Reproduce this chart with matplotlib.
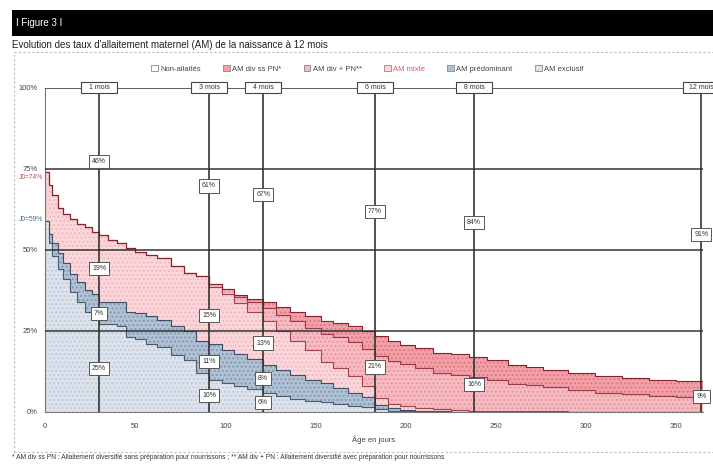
import matplotlib
matplotlib.use("Agg")
import matplotlib.pyplot as plt
import numpy as np
from matplotlib.patches import Patch, Rectangle

# ---- data ----
days = [0, 2, 4, 7, 10, 14, 18, 22, 26, 30, 35, 40, 45, 50, 56, 62, 70, 77, 84, 91,
        98, 105, 112, 121, 128, 136, 144, 153, 160, 168, 176, 183, 190, 197, 205, 215,
        225, 235, 245, 257, 267, 276, 290, 305, 320, 335, 350, 365]

am_exclusif = [59, 52, 48, 44, 41, 37, 34, 31, 29.5, 27, 27, 26.5, 23, 22.5, 21, 20, 17.5, 16, 12, 10,
               9, 8, 7, 6, 5, 4, 3.5, 3, 2.5, 2, 1.5, 0.8, 0.3, 0.2, 0.1, 0,
               0, 0, 0, 0, 0, 0, 0, 0, 0, 0, 0, 0]
am_predominant = [0, 3, 4, 5, 5, 5.5, 6, 6.5, 7, 7, 7, 7.5, 8, 8, 8.5, 8.5, 9, 9, 10, 11,
                  10, 10, 9.5, 8.5, 8, 7.5, 6.5, 6, 5, 4, 3, 1.5, 0.8, 0.5, 0.3, 0.2,
                  0.1, 0, 0, 0, 0, 0, 0, 0, 0, 0, 0, 0]
am_mixte = [15, 15, 15, 14, 15, 17, 18, 19.5, 19, 20.5, 19, 18, 19.5, 19, 19, 19, 18.5, 18, 20, 17.5,
            17.5, 15.5, 14.5, 13.5, 12, 10.5, 9, 6.5, 6, 5, 3.5, 2, 1.5, 1, 0.8, 0.6,
            0.5, 0.4, 0.2, 0.2, 0.2, 0.2, 0.1, 0, 0, 0, 0, 0]
am_div_pn = [0, 0, 0, 0, 0, 0, 0, 0, 0, 0, 0, 0, 0, 0, 0, 0, 0, 0, 0, 1,
             1.5, 2, 3, 4, 5, 6, 7, 8.5, 9.5, 10.5, 11.5, 13, 13, 13, 12.3, 11.3,
             10.8, 10.3, 9.6, 8.4, 8.1, 7.4, 6.6, 6, 5.5, 5, 4.7, 4.5]
am_div_ss_pn = [0, 0, 0, 0, 0, 0, 0, 0, 0, 0, 0, 0, 0, 0, 0, 0, 0, 0, 0, 0,
                0, 0.5, 1, 2, 2.5, 3, 3.5, 4, 4.5, 5, 5.5, 6.2, 6.4, 6.0, 6.2, 6.2,
                6.5, 6.4, 6.2, 5.9, 5.7, 5.4, 5.3, 5, 5, 5, 4.8, 4.8]

layer_names = ["AM exclusif", "AM prédominant", "AM mixte", "AM div + PN**", "AM div ss PN*"]

month_labels = ["1 mois", "3 mois", "4 mois", "6 mois", "8 mois", "12 mois"]
month_days = [30, 91, 121, 183, 238, 364]

# (month index, first layer, last layer, text) ; layer 5 = non-allaités
value_boxes = [
    (0, 5, 5, "46%"), (0, 2, 2, "19%"), (0, 1, 1, "7%"), (0, 0, 0, "25%"),
    (1, 5, 5, "61%"), (1, 2, 2, "15%"), (1, 1, 1, "11%"), (1, 0, 0, "10%"),
    (2, 5, 5, "67%"), (2, 2, 2, "13%"), (2, 1, 1, "8%"), (2, 0, 0, "6%"),
    (3, 5, 5, "77%"), (3, 3, 4, "21%"),
    (4, 5, 5, "84%"), (4, 0, 4, "16%"),
    (5, 5, 5, "91%"), (5, 0, 4, "9%"),
]
start_labels = ["J0=74%", "J0=59%"]

# ---- styles ----
fill_colors = ["#dde4ed", "#b2c2d5", "#fbd7db", "#f7bcc2", "#f3a1a9"]
hatch_colors = ["#c2cbd8", "#8599b2", "#efb9bf", "#e7979f", "#de7a84"]
line_colors = ["#4a5a70", "#3f4f66", "#a0434d", "#9b3a44", "#86222d"]

plt.rcParams["font.family"] = ["Liberation Sans", "DejaVu Sans"]

fig = plt.figure(figsize=(7.13, 4.65), dpi=100)
ax = fig.add_axes([0.0631, 0.114, 0.923, 0.697])

layers = np.array([am_exclusif, am_predominant, am_mixte, am_div_pn, am_div_ss_pn])
tops = np.cumsum(layers, axis=0)
bottoms = np.vstack([np.zeros(len(days)), tops[:-1]])

for i in range(len(layers)):
    ax.fill_between(days, bottoms[i], tops[i], step="post", facecolor=fill_colors[i],
                    edgecolor=hatch_colors[i], hatch="....", linewidth=0, zorder=1)
for i in range(len(layers)):
    ax.step(days, tops[i], where="post", color=line_colors[i], lw=0.8, zorder=2)

# reference lines
ax.hlines([25, 50, 75, 100], 0, 365, color="#333333", lw=1.1, zorder=3)
ax.vlines(month_days, 0, 100, color="#333333", lw=1.2, zorder=3)

ax.set_xlim(0, 365)
ax.set_ylim(0, 100)
for s in ["top", "right"]:
    ax.spines[s].set_visible(False)
ax.spines["left"].set_color("#777777")
ax.spines["bottom"].set_color("#777777")
ax.spines["left"].set_linewidth(0.8)
ax.spines["bottom"].set_linewidth(0.8)
ax.set_yticks([0, 25, 50, 75, 100])
ax.set_yticklabels(["0%", "25%", "50%", "75%", "100%"])
ax.set_xticks(range(0, 351, 50))
ax.tick_params(length=0, labelsize=5.5, colors="#444444", pad=8)
ax.tick_params(axis="y", pad=5)
ax.set_xlabel("Âge en jours", fontsize=5.5, color="#444444", labelpad=4)

# month boxes on the 100% line
for d, lab in zip(month_days, month_labels):
    ax.add_patch(Rectangle((d - 10, 98.3), 20, 3.4, facecolor="white", edgecolor="#444444",
                           lw=0.8, zorder=5, clip_on=False))
    ax.text(d, 100, lab, ha="center", va="center", fontsize=5, color="#333333", zorder=6,
            clip_on=False)

# value boxes
full = np.vstack([bottoms, tops[-1:]])
for m, first, last, txt in value_boxes:
    k = np.searchsorted(days, month_days[m], side="right") - 1
    lo = full[first, k]
    hi = 100 if last == 5 else tops[last, k]
    ax.text(month_days[m], (lo + hi) / 2, txt, ha="center", va="center", fontsize=5,
            color="#333333", zorder=6,
            bbox=dict(boxstyle="square,pad=0.45", fc="white", ec="#555555", lw=0.7))

# starting values
ax.text(-1, tops[-1, 0] - 0.5, start_labels[0], ha="right", va="top", fontsize=4.8,
        color="#c0504d", clip_on=False)
ax.text(-1, tops[0, 0] + 0.5, start_labels[1], ha="right", va="center", fontsize=4.8,
        color="#4f6d8f", clip_on=False)

# legend
handles = [Patch(facecolor="white", edgecolor="#888888", lw=0.6, label="Non-allaités")]
for i in reversed(range(len(layers))):
    handles.append(Patch(facecolor=fill_colors[i], edgecolor="#888888", lw=0.6,
                         label=layer_names[i]))
leg = fig.legend(handles=handles, loc="center", bbox_to_anchor=(0.515, 0.852), ncol=6,
                 frameon=False, fontsize=5.5, handlelength=0.9, handleheight=0.9,
                 handletextpad=0.3, columnspacing=2.9)
for t in leg.get_texts():
    t.set_color("#444444")
    if t.get_text() == "AM mixte":
        t.set_color("#e0555f")

# header and frame
fig.patches.append(Rectangle((0.0168, 0.9226), 0.99, 0.056, transform=fig.transFigure,
                             facecolor="black", edgecolor="none"))
fig.text(0.023, 0.951, "I Figure 3 I", color="white", fontsize=7, va="center")
fig.text(0.017, 0.903, "Evolution des taux d'allaitement maternel (AM) de la naissance à 12 mois",
         fontsize=7, color="#222222", va="center")
fig.patches.append(Rectangle((0.0196, 0.028), 0.985, 0.86, transform=fig.transFigure,
                             facecolor="none", edgecolor="#bbbbbb", lw=0.8, ls=(0, (2, 2))))
fig.text(0.017, 0.008, "* AM div ss PN : Allaitement diversifié sans préparation pour nourrissons ; "
         "** AM div + PN : Allaitement diversifié avec préparation pour nourrissons",
         fontsize=4.8, color="#333333", va="bottom")

fig.savefig("out.png", dpi=100)
